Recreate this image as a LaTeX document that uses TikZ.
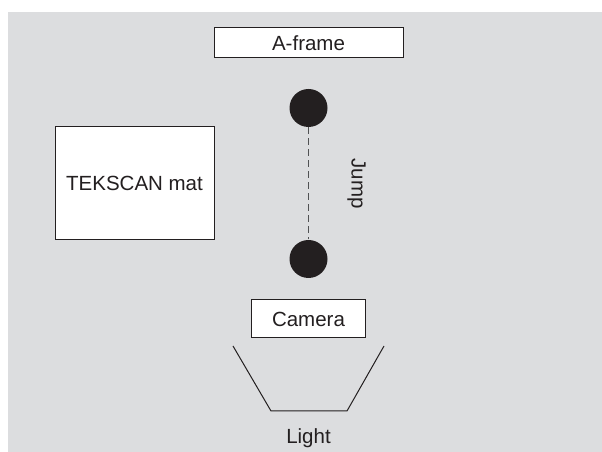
\documentclass[tikz,border=0pt]{standalone}
\usepackage{fontspec}
\setmainfont{Liberation Sans}
\definecolor{panelgray}{HTML}{DCDDDF}
\definecolor{inkdark}{HTML}{231F20}
\definecolor{dashgray}{HTML}{505153}
\begin{document}
\begin{tikzpicture}[x=1pt,y=1pt,node distance=65pt,line width=1pt,
        font=\fontsize{20.5}{24}\selectfont,text=inkdark,
        box/.style={draw=inkdark, fill=white, rectangle, inner sep=0pt},
        ball/.style={circle, fill=inkdark, minimum size=38pt, inner sep=0pt},
        jumpline/.style={draw=dashgray, line width=1.3pt, dash pattern=on 7pt off 4pt}]
        \useasboundingbox (0,0) rectangle (602,452);
        \fill[panelgray] (8,0) rectangle (602,440);

        \node (aframe) [box, minimum width=189pt, minimum height=30pt] at (308.5,409) {A-frame};
        \node (top) [ball, below of=aframe] {};
        \node (bottom) [ball, below of=top, yshift=-86pt] {};
        \node (tekscan) [box, minimum width=159pt, minimum height=113pt] at (134.5,268.5) {TEKSCAN mat};
        \node (camera) [box, below of=bottom, yshift=5pt, minimum width=114pt, minimum height=38pt] {Camera};
        \node (light) [below of=camera, yshift=-54pt] {Light};

        \draw[jumpline] (top) -- node[midway, xshift=48pt, rotate=-90] (jump) {Jump} (bottom);

        % light reflector
        \coordinate (lamptl) at (233,106);
        \coordinate (lampbl) at (271,41);
        \coordinate (lampbr) at (347,41);
        \coordinate (lamptr) at (384,106);
        \draw[inkdark] (lamptl) -- (lampbl) -- (lampbr) -- (lamptr);
    \end{tikzpicture}
\end{document}
